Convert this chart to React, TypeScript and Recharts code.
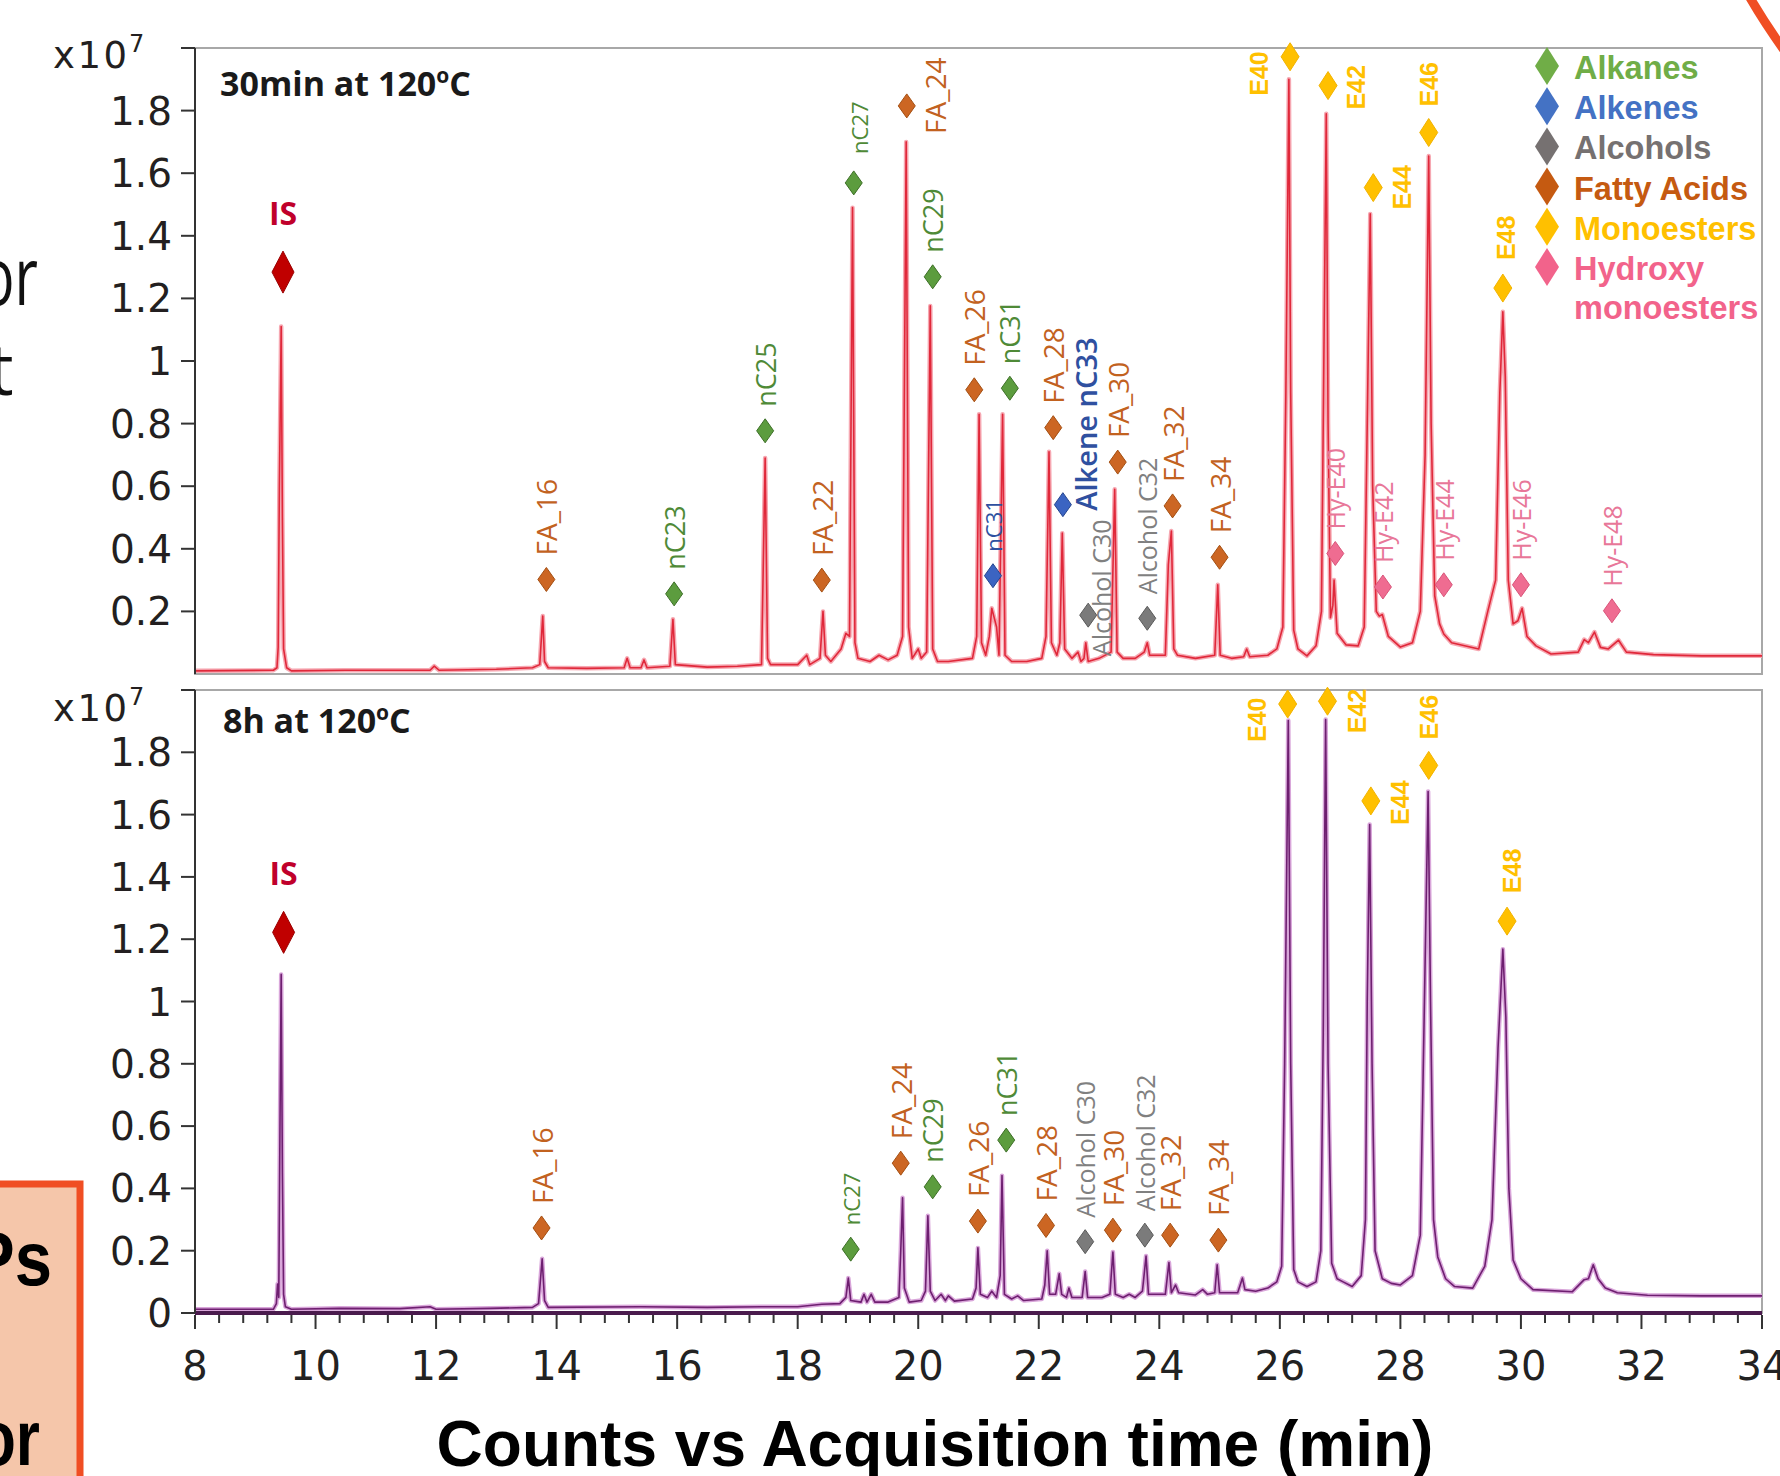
import React from 'react';
import { ComposedChart, Line, Scatter, XAxis, YAxis, ReferenceArea } from 'recharts';

// retention time axis (min)
const X_MAJOR = [8, 10, 12, 14, 16, 18, 20, 22, 24, 26, 28, 30, 32, 34];
const TOP_Y_TICKS = [0.2, 0.4, 0.6, 0.8, 1, 1.2, 1.4, 1.6, 1.8, 2];
const BOTTOM_Y_TICKS = [0, 0.2, 0.4, 0.6, 0.8, 1, 1.2, 1.4, 1.6, 1.8, 2];

// [time (min), counts (x10^7)]
const topTrace: [number, number][] = [
  [8.0, 0.01], [9.3, 0.012], [9.36, 0.02], [9.38, 0.085], [9.4, 0.6], [9.43, 1.11], [9.45, 0.5], [9.47, 0.08],
  [9.52, 0.02], [9.6, 0.01], [10.5, 0.012], [11.9, 0.012], [11.97, 0.025], [12.05, 0.012], [13.0, 0.015],
  [13.6, 0.02], [13.72, 0.03], [13.77, 0.185], [13.8, 0.04], [13.86, 0.02], [14.5, 0.018], [15.12, 0.02],
  [15.17, 0.05], [15.22, 0.02], [15.4, 0.02], [15.45, 0.045], [15.5, 0.02], [15.88, 0.025], [15.93, 0.175],
  [15.97, 0.03], [16.5, 0.022], [17.0, 0.025], [17.4, 0.03], [17.46, 0.69], [17.5, 0.05], [17.55, 0.03],
  [18.0, 0.03], [18.15, 0.06], [18.2, 0.03], [18.37, 0.05], [18.42, 0.2], [18.46, 0.06], [18.55, 0.04],
  [18.72, 0.08], [18.8, 0.13], [18.86, 0.12], [18.91, 1.49], [18.95, 0.1], [19.0, 0.05], [19.2, 0.04],
  [19.35, 0.06], [19.5, 0.045], [19.65, 0.06], [19.74, 0.12], [19.8, 1.7], [19.84, 0.15], [19.9, 0.05],
  [20.0, 0.08], [20.05, 0.05], [20.14, 0.07], [20.2, 1.176], [20.24, 0.08], [20.32, 0.04], [20.5, 0.04],
  [20.9, 0.05], [20.97, 0.12], [21.01, 0.83], [21.05, 0.1], [21.12, 0.06], [21.18, 0.12], [21.22, 0.21],
  [21.26, 0.18], [21.3, 0.15], [21.34, 0.06], [21.4, 0.83], [21.44, 0.06], [21.55, 0.04], [21.8, 0.04],
  [22.05, 0.05], [22.12, 0.12], [22.17, 0.71], [22.21, 0.1], [22.3, 0.06], [22.35, 0.1], [22.39, 0.45],
  [22.43, 0.08], [22.55, 0.05], [22.65, 0.07], [22.7, 0.04], [22.75, 0.05], [22.78, 0.1], [22.82, 0.04],
  [23.0, 0.05], [23.2, 0.07], [23.26, 0.59], [23.3, 0.07], [23.4, 0.05], [23.6, 0.05], [23.75, 0.07],
  [23.8, 0.1], [23.84, 0.06], [24.1, 0.06], [24.15, 0.35], [24.2, 0.457], [24.24, 0.08], [24.3, 0.06],
  [24.6, 0.05], [24.92, 0.06], [24.97, 0.285], [25.01, 0.06], [25.2, 0.05], [25.4, 0.055], [25.45, 0.08],
  [25.5, 0.055], [25.8, 0.06], [25.95, 0.08], [26.05, 0.15], [26.1, 0.9], [26.15, 1.9], [26.18, 0.9],
  [26.23, 0.14], [26.3, 0.08], [26.45, 0.058], [26.6, 0.09], [26.69, 0.2], [26.73, 1.0], [26.77, 1.79],
  [26.8, 0.8], [26.84, 0.18], [26.88, 0.22], [26.9, 0.3], [26.95, 0.13], [27.1, 0.093], [27.3, 0.09],
  [27.4, 0.15], [27.45, 0.8], [27.5, 1.47], [27.54, 0.6], [27.6, 0.2], [27.65, 0.185], [27.7, 0.19],
  [27.8, 0.12], [28.0, 0.086], [28.2, 0.1], [28.33, 0.2], [28.41, 0.7], [28.47, 1.655], [28.51, 0.8],
  [28.57, 0.25], [28.65, 0.16], [28.72, 0.128], [28.85, 0.1], [29.3, 0.08], [29.45, 0.2], [29.58, 0.3],
  [29.65, 0.9], [29.7, 1.157], [29.74, 0.95], [29.79, 0.3], [29.87, 0.16], [29.95, 0.17], [30.02, 0.21],
  [30.1, 0.12], [30.25, 0.09], [30.5, 0.064], [30.95, 0.07], [31.05, 0.11], [31.12, 0.1], [31.22, 0.134],
  [31.32, 0.085], [31.45, 0.08], [31.62, 0.108], [31.75, 0.07], [32.2, 0.062], [33.0, 0.058], [34.0, 0.058],
];

// [time (min), counts (x10^7)]
const bottomTrace: [number, number][] = [
  [8.0, 0.012], [9.3, 0.012], [9.35, 0.03], [9.37, 0.093], [9.39, 0.05], [9.41, 0.6], [9.43, 1.087],
  [9.45, 0.45], [9.47, 0.06], [9.5, 0.02], [9.6, 0.012], [10.4, 0.015], [11.4, 0.014], [11.9, 0.02],
  [12.0, 0.012], [12.9, 0.015], [13.6, 0.018], [13.7, 0.03], [13.76, 0.174], [13.8, 0.04], [13.86, 0.018],
  [15.4, 0.02], [16.5, 0.018], [17.4, 0.02], [18.0, 0.02], [18.4, 0.028], [18.7, 0.03], [18.8, 0.05],
  [18.84, 0.112], [18.88, 0.04], [19.05, 0.035], [19.1, 0.06], [19.15, 0.035], [19.22, 0.06], [19.28, 0.035],
  [19.5, 0.035], [19.68, 0.05], [19.71, 0.2], [19.74, 0.37], [19.77, 0.08], [19.85, 0.035], [20.05, 0.04],
  [20.12, 0.07], [20.16, 0.312], [20.2, 0.07], [20.28, 0.04], [20.38, 0.06], [20.45, 0.04], [20.5, 0.055],
  [20.6, 0.038], [20.9, 0.045], [20.96, 0.08], [20.99, 0.209], [21.03, 0.06], [21.15, 0.05], [21.22, 0.07],
  [21.3, 0.05], [21.36, 0.12], [21.39, 0.441], [21.43, 0.06], [21.55, 0.045], [21.65, 0.055], [21.75, 0.04],
  [22.05, 0.045], [22.1, 0.09], [22.14, 0.2], [22.18, 0.06], [22.28, 0.06], [22.34, 0.126], [22.38, 0.06],
  [22.46, 0.05], [22.5, 0.08], [22.55, 0.05], [22.72, 0.05], [22.77, 0.133], [22.81, 0.05], [23.05, 0.05],
  [23.18, 0.06], [23.23, 0.196], [23.27, 0.06], [23.4, 0.05], [23.5, 0.06], [23.6, 0.05], [23.72, 0.07],
  [23.78, 0.183], [23.82, 0.06], [23.95, 0.06], [24.1, 0.06], [24.16, 0.162], [24.2, 0.065], [24.27, 0.09],
  [24.32, 0.065], [24.6, 0.058], [24.72, 0.075], [24.8, 0.06], [24.92, 0.065], [24.96, 0.155], [25.0, 0.065],
  [25.3, 0.065], [25.38, 0.112], [25.42, 0.075], [25.6, 0.07], [25.8, 0.08], [25.95, 0.1], [26.03, 0.15],
  [26.08, 0.8], [26.14, 1.902], [26.18, 0.8], [26.23, 0.14], [26.3, 0.1], [26.45, 0.085], [26.6, 0.1],
  [26.68, 0.2], [26.72, 0.9], [26.76, 1.905], [26.8, 0.8], [26.86, 0.16], [26.95, 0.11], [27.05, 0.1],
  [27.2, 0.085], [27.35, 0.12], [27.42, 0.3], [27.45, 1.0], [27.49, 1.568], [27.53, 0.8], [27.58, 0.2],
  [27.7, 0.11], [27.85, 0.095], [28.0, 0.09], [28.2, 0.12], [28.33, 0.25], [28.39, 0.9], [28.46, 1.674],
  [28.5, 1.0], [28.55, 0.3], [28.62, 0.18], [28.75, 0.11], [28.9, 0.085], [29.2, 0.08], [29.4, 0.15],
  [29.52, 0.3], [29.62, 0.85], [29.7, 1.168], [29.75, 0.95], [29.8, 0.4], [29.87, 0.17], [30.0, 0.11],
  [30.2, 0.075], [30.85, 0.068], [31.05, 0.107], [31.12, 0.11], [31.2, 0.155], [31.28, 0.11], [31.4, 0.08],
  [31.6, 0.065], [32.1, 0.057], [33.0, 0.055], [34.0, 0.055],
];

type Mark = { t: number; v: number; name: string; cls: string };

// annotated compounds (diamond position, x10^7 counts)
const topMarks: Mark[] = [
  { t: 9.46, v: 1.284, name: 'IS', cls: 'IS' },
  { t: 13.83, v: 0.302, name: 'FA_16', cls: 'fatty' },
  { t: 15.95, v: 0.256, name: 'nC23', cls: 'alkane' },
  { t: 17.46, v: 0.777, name: 'nC25', cls: 'alkane' },
  { t: 18.4, v: 0.3, name: 'FA_22', cls: 'fatty' },
  { t: 18.93, v: 1.569, name: 'nC27', cls: 'alkane' },
  { t: 19.81, v: 1.815, name: 'FA_24', cls: 'fatty' },
  { t: 20.24, v: 1.269, name: 'nC29', cls: 'alkane' },
  { t: 20.93, v: 0.908, name: 'FA_26', cls: 'fatty' },
  { t: 21.24, v: 0.314, name: 'nC31', cls: 'alkene' },
  { t: 21.52, v: 0.913, name: 'nC31', cls: 'alkane' },
  { t: 22.24, v: 0.787, name: 'FA_28', cls: 'fatty' },
  { t: 22.4, v: 0.541, name: 'Alkene nC33', cls: 'alkene' },
  { t: 22.82, v: 0.188, name: 'Alcohol C30', cls: 'alcohol' },
  { t: 23.31, v: 0.677, name: 'FA_30', cls: 'fatty' },
  { t: 23.8, v: 0.178, name: 'Alcohol C32', cls: 'alcohol' },
  { t: 24.22, v: 0.537, name: 'FA_32', cls: 'fatty' },
  { t: 25.0, v: 0.373, name: 'FA_34', cls: 'fatty' },
  { t: 26.17, v: 1.972, name: 'E40', cls: 'ester' },
  { t: 26.8, v: 1.88, name: 'E42', cls: 'ester' },
  { t: 26.92, v: 0.385, name: 'Hy-E40', cls: 'hydroxy' },
  { t: 27.55, v: 1.554, name: 'E44', cls: 'ester' },
  { t: 27.71, v: 0.278, name: 'Hy-E42', cls: 'hydroxy' },
  { t: 28.47, v: 1.73, name: 'E46', cls: 'ester' },
  { t: 28.72, v: 0.285, name: 'Hy-E44', cls: 'hydroxy' },
  { t: 29.7, v: 1.233, name: 'E48', cls: 'ester' },
  { t: 30.0, v: 0.285, name: 'Hy-E46', cls: 'hydroxy' },
  { t: 31.51, v: 0.202, name: 'Hy-E48', cls: 'hydroxy' },
];

const bottomMarks: Mark[] = [
  { t: 9.47, v: 1.222, name: 'IS', cls: 'IS' },
  { t: 13.75, v: 0.273, name: 'FA_16', cls: 'fatty' },
  { t: 18.88, v: 0.205, name: 'nC27', cls: 'alkane' },
  { t: 19.71, v: 0.481, name: 'FA_24', cls: 'fatty' },
  { t: 20.24, v: 0.405, name: 'nC29', cls: 'alkane' },
  { t: 20.99, v: 0.295, name: 'FA_26', cls: 'fatty' },
  { t: 21.46, v: 0.555, name: 'nC31', cls: 'alkane' },
  { t: 22.12, v: 0.281, name: 'FA_28', cls: 'fatty' },
  { t: 22.77, v: 0.229, name: 'Alcohol C30', cls: 'alcohol' },
  { t: 23.23, v: 0.266, name: 'FA_30', cls: 'fatty' },
  { t: 23.76, v: 0.25, name: 'Alcohol C32', cls: 'alcohol' },
  { t: 24.18, v: 0.25, name: 'FA_32', cls: 'fatty' },
  { t: 24.98, v: 0.234, name: 'FA_34', cls: 'fatty' },
  { t: 26.13, v: 1.955, name: 'E40', cls: 'ester' },
  { t: 26.79, v: 1.964, name: 'E42', cls: 'ester' },
  { t: 27.51, v: 1.644, name: 'E44', cls: 'ester' },
  { t: 28.47, v: 1.758, name: 'E46', cls: 'ester' },
  { t: 29.77, v: 1.258, name: 'E48', cls: 'ester' },
];

const legendItems = [
  { name: 'Alkanes', color: '#70ad47' },
  { name: 'Alkenes', color: '#4472c4' },
  { name: 'Alcohols', color: '#767171' },
  { name: 'Fatty Acids', color: '#c55a11' },
  { name: 'Monoesters', color: '#ffc000' },
  { name: 'Hydroxy', color: '#f2638b' },
];

const CLS: Record<string, any> = {
  IS: { fill: '#c00000', stroke: '#9a0000', text: '#c0002b', size: 32, weight: 700, w: 22, h: 42 },
  alkane: { fill: '#5c9c3e', stroke: '#3d6f27', text: '#4f8a37', size: 27, weight: 400, w: 17, h: 24 },
  alkene: { fill: '#3b64c2', stroke: '#25458f', text: '#2f50a0', size: 27, weight: 400, w: 17, h: 24 },
  alcohol: { fill: '#7b7b7b', stroke: '#5a5a5a', text: '#808080', size: 25, weight: 400, w: 17, h: 24 },
  fatty: { fill: '#cc6623', stroke: '#a44f12', text: '#c2621f', size: 28, weight: 400, w: 17, h: 24 },
  ester: { fill: '#ffc000', stroke: '#f2b300', text: '#ffc000', size: 25, weight: 700, w: 18, h: 28, font: 'Liberation Sans, Arial, sans-serif' },
  hydroxy: { fill: '#ef6c91', stroke: '#d9557a', text: '#e87799', size: 25, weight: 400, w: 17, h: 24 },
};

// where the rotated label starts, relative to the diamond centre
type Place = { dx: number; dy: number };
const TOP_PLACE: Record<string, Place> = {
  'fatty:FA_24': { dx: 28, dy: 28 },
  'alkene:Alkene nC33': { dx: 23, dy: 6 },
  'alcohol:Alcohol C30': { dx: 13, dy: 41 },
  'alkane:nC27': { dx: 5, dy: -29 },
  'ester:E40': { dx: -31, dy: 39 },
  'ester:E42': { dx: 28, dy: 24 },
  'ester:E44': { dx: 29, dy: 22 },
  'ester:E48': { dx: 3, dy: -28 },
};
const BOTTOM_PLACE: Record<string, Place> = {
  'ester:E40': { dx: -31, dy: 38 },
  'ester:E42': { dx: 30, dy: 32 },
  'ester:E44': { dx: 29, dy: 24 },
  'ester:E48': { dx: 5, dy: -28 },
};
const LABEL_SIZE: Record<string, number> = {
  'alkane:nC27': 22,
  'alkene:nC31': 22,
  'alkene:Alkene nC33': 29,
};

const toPts = (a: [number, number][]) => a.map(([t, v]) => ({ t, v }));

const X_TICKS: number[] = [];
X_MAJOR.forEach((m, i) => {
  X_TICKS.push(m);
  if (i < X_MAJOR.length - 1) {
    for (let k = 1; k < 5; k++) X_TICKS.push(Math.round((m + k * 0.4) * 10) / 10);
  }
});

const makeMarkShape = (place: Record<string, Place>) => (props: any) => {
  const { cx, cy, payload } = props;
  if (cx == null || cy == null) return null;
  const s = CLS[payload.cls];
  const key = `${payload.cls}:${payload.name}`;
  const pts = `${cx},${cy - s.h / 2} ${cx + s.w / 2},${cy} ${cx},${cy + s.h / 2} ${cx - s.w / 2},${cy}`;
  if (payload.cls === 'IS') {
    return (
      <g>
        <polygon points={pts} fill={s.fill} stroke={s.stroke} strokeWidth={1} />
        <text x={cx} y={cy - 47} textAnchor="middle" fontFamily="Open Sans, sans-serif" fontWeight={700}
          fontSize={s.size} fill={s.text}>{payload.name}</text>
      </g>
    );
  }
  const p = place[key] || { dx: 0, dy: payload.cls === 'ester' ? -26 : -24 };
  const size = LABEL_SIZE[key] || s.size;
  const weight = key === 'alkene:Alkene nC33' ? 600 : s.weight;
  return (
    <g>
      <polygon points={pts} fill={s.fill} stroke={s.stroke} strokeWidth={1} />
      <text transform={`translate(${cx + p.dx},${cy + p.dy}) rotate(-90)`} textAnchor="start"
        dominantBaseline="central" fontFamily={s.font || 'Open Sans, sans-serif'} fontWeight={weight}
        fontSize={size} fill={s.text}>{payload.name}</text>
    </g>
  );
};

const YTick = (props: any) => {
  const { x, y, payload, expDy } = props;
  if (payload.value === 2) {
    return (
      <g>
        <text x={x - 119} y={y + expDy} fontFamily="DejaVu Sans, sans-serif" fontSize={37} fill="#231f20"
          textLength={74} lengthAdjust="spacing">x10</text>
        <text x={x - 43} y={y + expDy - 16} fontFamily="DejaVu Sans, sans-serif" fontSize={24} fill="#231f20">7</text>
      </g>
    );
  }
  return (
    <text x={x} y={y} dy={14} textAnchor="end" fontFamily="DejaVu Sans, sans-serif" fontSize={39} fill="#231f20">
      {String(payload.value)}
    </text>
  );
};

const XTick = (props: any) => {
  const { x, y, payload } = props;
  const v = payload.value;
  const major = X_MAJOR.includes(v);
  return (
    <g>
      <line x1={x} x2={x} y1={y + 2} y2={y + (major ? 16 : 10)} stroke="#333" strokeWidth={2} />
      {major && (
        <text x={x} y={y + 67} textAnchor="middle" fontFamily="DejaVu Sans, sans-serif" fontSize={40} fill="#222">
          {v}
        </text>
      )}
    </g>
  );
};

interface PanelProps {
  trace: [number, number][];
  marks: Mark[];
  yTicks: number[];
  height: number;
  margin: { top: number; right: number; bottom: number; left: number };
  showX: boolean;
  core: string;
  halo: string;
  place: Record<string, Place>;
  expDy: number;
}

const Panel: React.FC<PanelProps> = ({ trace, marks, yTicks, height, margin, showX, core, halo, place, expDy }) => {
  const pts = toPts(trace);
  return (
    <ComposedChart width={1780} height={height} margin={margin}>
      <XAxis
        type="number"
        dataKey="t"
        domain={[8, 34]}
        hide={!showX}
        ticks={X_TICKS}
        interval={0}
        height={80}
        tickSize={0}
        tickMargin={0}
        tickLine={false}
        axisLine={{ stroke: '#4a1b4d', strokeWidth: 4 }}
        tick={XTick}
      />
      <YAxis
        type="number"
        dataKey="v"
        domain={[0, 2]}
        ticks={yTicks}
        interval={0}
        width={120}
        tickSize={14}
        tickMargin={9}
        tickLine={{ stroke: '#333', strokeWidth: 2 }}
        axisLine={{ stroke: '#333', strokeWidth: 2 }}
        tick={(p: any) => <YTick {...p} expDy={expDy} />}
      />
      <ReferenceArea x1={8} x2={34} y1={0} y2={2} fill="none" stroke="#a8a8a8" strokeWidth={2} />
      <Line data={pts} dataKey="v" type="linear" dot={false} stroke={halo} strokeWidth={4.5}
        strokeLinejoin="round" isAnimationActive={false} />
      <Line data={pts} dataKey="v" type="linear" dot={false} stroke={core} strokeWidth={1.6}
        strokeLinejoin="round" isAnimationActive={false} />
      <Scatter data={marks} dataKey="v" shape={makeMarkShape(place)} isAnimationActive={false} />
    </ComposedChart>
  );
};

const Overlay: React.FC = () => (
  <svg width={1780} height={1476} style={{ position: 'absolute', left: 0, top: 0, pointerEvents: 'none' }}>
    {/* panel titles */}
    <text x={220} y={96} fontFamily="Open Sans, sans-serif" fontWeight={700} fontSize={34} fill="#1a1a1a">
      30min at 120<tspan dy={-13} fontSize={21}>o</tspan><tspan dy={13} fontSize={34}>C</tspan>
    </text>
    <text x={223} y={733} fontFamily="Open Sans, sans-serif" fontWeight={700} fontSize={34} fill="#1a1a1a">
      8h at 120<tspan dy={-13} fontSize={21}>o</tspan><tspan dy={13} fontSize={34}>C</tspan>
    </text>

    {/* legend */}
    {legendItems.map((it, i) => {
      const cy = 66 + i * 40.2;
      return (
        <g key={it.name}>
          <polygon points={`1547,${cy - 19} 1559,${cy} 1547,${cy + 19} 1535,${cy}`} fill={it.color} />
          <text x={1574} y={cy + 13} fontFamily="Liberation Sans, Arial, sans-serif"
            fontWeight={700} fontSize={32.5} fill={it.color}>{it.name}</text>
        </g>
      );
    })}
    <text x={1574} y={319} fontFamily="Liberation Sans, Arial, sans-serif"
      fontWeight={700} fontSize={32.5} fill="#f2638b">monoesters</text>

    {/* x axis title */}
    <text x={935} y={1466} textAnchor="middle" fontFamily="Liberation Sans, Arial, sans-serif" fontWeight={700}
      fontSize={64} fill="#000">Counts vs Acquisition time (min)</text>

    {/* slide leftovers around the figure */}
    <text x={-20} y={305} fontFamily="Open Sans, sans-serif" fontSize={80} fill="#111" textLength={58}
      lengthAdjust="spacingAndGlyphs">or</text>
    <text x={-12} y={395} fontFamily="Open Sans, sans-serif" fontSize={72} fill="#111">t</text>
    <rect x={-10} y={1184} width={90} height={310} fill="#f5c6aa" stroke="#f04e23" strokeWidth={7} />
    <text x={-30} y={1285} fontFamily="Liberation Sans, Arial, sans-serif" fontWeight={700} fontSize={76} fill="#000"
      textLength={82} lengthAdjust="spacingAndGlyphs">Ps</text>
    <text x={-22} y={1465} fontFamily="Liberation Sans, Arial, sans-serif" fontWeight={700} fontSize={78} fill="#000"
      textLength={62} lengthAdjust="spacingAndGlyphs">or</text>
    <path d="M 1749 -4 Q 1764 22 1784 50" fill="none" stroke="#f04e23" strokeWidth={9} />
  </svg>
);

const App: React.FC = () => (
  <div style={{ position: 'absolute', left: 0, top: 0, width: 1780, height: 1476, background: '#fff', overflow: 'hidden' }}>
    <div style={{ position: 'absolute', left: 0, top: 0 }}>
      <Panel
        trace={topTrace}
        marks={topMarks}
        yTicks={TOP_Y_TICKS}
        height={700}
        margin={{ top: 48, right: 18, bottom: 26, left: 75 }}
        showX={false}
        core="#e0283a"
        halo="#f6a8b2"
        place={TOP_PLACE}
        expDy={20}
      />
    </div>
    <div style={{ position: 'absolute', left: 0, top: 660 }}>
      <Panel
        trace={bottomTrace}
        marks={bottomMarks}
        yTicks={BOTTOM_Y_TICKS}
        height={816}
        margin={{ top: 30, right: 18, bottom: 83, left: 75 }}
        showX={true}
        core="#6e1f70"
        halo="#d9a6da"
        place={BOTTOM_PLACE}
        expDy={31}
      />
    </div>
    <Overlay />
  </div>
);

export default App;
